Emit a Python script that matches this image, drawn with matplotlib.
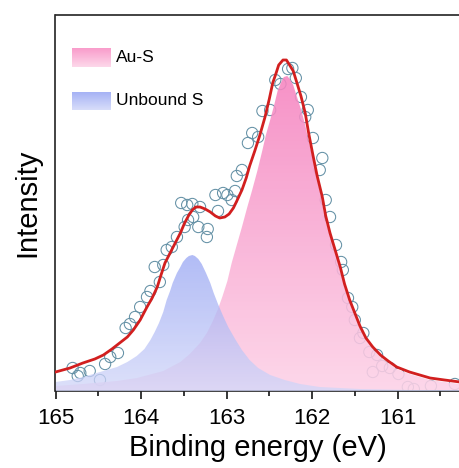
import numpy as np
import matplotlib
matplotlib.use('Agg')
import matplotlib.pyplot as plt
from matplotlib.colors import LinearSegmentedColormap

plt.rcParams['font.family'] = ['Liberation Sans', 'DejaVu Sans']

# measured points (binding energy in eV, intensity in a.u.)
exp_e = [164.80, 164.74, 164.71, 164.60, 164.48, 164.42, 164.36, 164.27, 164.18, 164.13,
         164.07, 164.01, 163.93, 163.89, 163.84, 163.78, 163.74, 163.70, 163.64, 163.58,
         163.53, 163.49, 163.46, 163.45, 163.40, 163.39, 163.33, 163.31, 163.23, 163.22,
         163.13, 163.10, 163.04, 162.99, 162.94, 162.90, 162.88, 162.82, 162.75, 162.70,
         162.63, 162.58, 162.49, 162.43, 162.37, 162.28, 162.23, 162.19, 162.13, 162.08,
         162.05, 161.99, 161.91, 161.88, 161.84, 161.79, 161.72, 161.66, 161.64, 161.58,
         161.53, 161.50, 161.44, 161.40, 161.33, 161.29, 161.24, 161.18, 161.09, 160.99,
         160.88, 160.81, 160.61, 160.33]
exp_i = [23, 15, 18, 20, 11, 27, 34, 38, 63, 67,
         74, 84, 94, 100, 124, 109, 126, 141, 144, 154,
         188, 164, 186, 171, 187, 174, 164, 184, 154, 162,
         196, 180, 198, 196, 191, 200, 215, 221, 248, 258,
         254, 280, 281, 311, 307, 322, 323, 313, 294, 274,
         281, 253, 221, 233, 191, 174, 146, 129, 121, 93,
         84, 71, 53, 58, 39, 19, 36, 25, 23, 17,
         4, 2, 5, 7]

# envelope (fit)
fit_e = [165.00, 164.83, 164.68, 164.54, 164.44, 164.34, 164.25, 164.16, 164.09, 164.01,
         163.93, 163.87, 163.81, 163.77, 163.72, 163.66, 163.60, 163.54, 163.49, 163.44,
         163.40, 163.36, 163.31, 163.25, 163.19, 163.13, 163.08, 163.02, 162.97, 162.92,
         162.88, 162.82, 162.77, 162.73, 162.67, 162.61, 162.55, 162.50, 162.46, 162.42,
         162.39, 162.34, 162.30, 162.27, 162.22, 162.18, 162.13, 162.08, 162.04, 161.99,
         161.94, 161.88, 161.84, 161.79, 161.73, 161.67, 161.62, 161.56, 161.50, 161.44,
         161.37, 161.29, 161.20, 161.11, 161.01, 160.86, 160.62, 160.45, 160.27]
fit_i = [19, 23, 28, 32, 36, 42, 48, 54, 61, 71,
         84, 93, 104, 115, 128, 138, 148, 158, 168, 176,
         181, 184, 184, 182, 179, 175, 173, 174, 177, 183,
         190, 201, 213, 225, 240, 256, 274, 292, 308, 318,
         326, 331, 331, 327, 320, 309, 295, 278, 258, 236,
         215, 194, 175, 158, 141, 124, 107, 91, 78, 65,
         53, 44, 36, 30, 24, 19, 13, 11, 9]

# Au-S component
aus_e = [165.00, 164.68, 164.28, 164.05, 163.74, 163.54, 163.43, 163.31, 163.23, 163.16,
         163.10, 163.05, 162.99, 162.94, 162.88, 162.82, 162.76, 162.70, 162.64, 162.58,
         162.54, 162.49, 162.44, 162.40, 162.36, 162.33, 162.29, 162.26, 162.22, 162.18,
         162.13, 162.08, 162.04, 161.99, 161.94, 161.89, 161.85, 161.79, 161.73, 161.67,
         161.62, 161.56, 161.50, 161.44, 161.37, 161.29, 161.20, 161.11, 161.01, 160.86,
         160.62, 160.45, 160.27]
aus_i = [5, 7, 10, 13, 20, 29, 37, 48, 58, 70,
         82, 94, 110, 128, 146, 164, 183, 201, 220, 241,
         256, 271, 287, 301, 309, 314, 315, 312, 306, 295,
         282, 266, 250, 232, 212, 192, 173, 155, 138, 121,
         104, 89, 76, 64, 52, 42, 34, 28, 22, 17,
         11, 9, 7]

# unbound S component
unb_e = [165.00, 164.83, 164.68, 164.48, 164.28, 164.16, 164.05, 163.96, 163.89, 163.84,
         163.79, 163.74, 163.70, 163.66, 163.63, 163.58, 163.54, 163.51, 163.47, 163.44,
         163.40, 163.37, 163.33, 163.29, 163.24, 163.19, 163.15, 163.10, 163.04, 162.98,
         162.90, 162.82, 162.73, 162.63, 162.49, 162.32, 162.14, 161.91, 161.44, 160.86,
         160.27]
unb_i = [9, 11, 14, 19, 24, 29, 35, 42, 51, 59,
         68, 79, 91, 100, 108, 118, 124, 129, 133, 135,
         136, 135, 132, 127, 118, 108, 98, 87, 75, 64,
         52, 41, 31, 23, 16, 11, 7, 4, 2, 1,
         1]


def grad_fill(ax, x, y, c_top, c_bot, alpha, z):
    x = np.asarray(x)
    y = np.asarray(y)
    poly, = ax.fill(np.r_[x, x[-1], x[0]], np.r_[y, 0, 0], facecolor='none',
                    edgecolor='none')
    cmap = LinearSegmentedColormap.from_list('g', [c_bot, c_top])
    grad = np.linspace(0, 1, 256).reshape(-1, 1)
    im = ax.imshow(grad, cmap=cmap, aspect='auto', origin='lower',
                   extent=[x.min(), x.max(), 0, y.max()], alpha=alpha, zorder=z)
    im.set_clip_path(poly)


fig = plt.figure(figsize=(4.6, 4.68), dpi=100)
ax = fig.add_axes([55.5 / 460, 77 / 468, 404.5 / 460, 376 / 468])

ax.scatter(exp_e, exp_i, s=66, facecolors='none', edgecolors='#6390a5',
           linewidths=0.75, zorder=1)
grad_fill(ax, aus_e, aus_i, '#f684c0', '#fdd2e7', 0.88, 2)
grad_fill(ax, unb_e, unb_i, '#98a6f3', '#d2d7f9', 0.75, 3)
ax.plot(fit_e, fit_i, color='#d21f1f', lw=2.0, zorder=4)

ax.set_xlim(165, 160.27)
ax.set_ylim(0, 376)
ax.set_xticks([165, 164, 163, 162, 161])
ax.set_xticks([164.5, 163.5, 162.5, 161.5, 160.5], minor=True)
ax.set_yticks([])
ax.tick_params(axis='x', which='major', length=6, width=1.1, labelsize=16, pad=6)
ax.tick_params(axis='x', which='minor', length=3.5, width=1.1)
for s in ['left', 'bottom', 'top']:
    ax.spines[s].set_linewidth(1.2)
    ax.spines[s].set_color('#222222')
ax.spines['right'].set_visible(False)

ax.set_xlabel('Binding energy (eV)', fontsize=21, labelpad=4)
ax.set_ylabel('Intensity', fontsize=21, labelpad=10)

# legend with gradient swatches
legend_items = [('Au-S', '#f99ccb', '#fdd8ea', 0.862), ('Unbound S', '#a3b0f5', '#d8ddfa', 0.747)]
for label, ctop, cbot, y0 in legend_items:
    sub = ax.inset_axes([0.041, y0, 0.096, 0.049])
    cm = LinearSegmentedColormap.from_list('l', [cbot, ctop])
    sub.imshow(np.linspace(0, 1, 64).reshape(-1, 1), cmap=cm, aspect='auto', origin='lower')
    sub.axis('off')
    ax.text(0.149, y0 + 0.025, label, transform=ax.transAxes, fontsize=12.5, va='center')

fig.savefig('out.png', dpi=100)
